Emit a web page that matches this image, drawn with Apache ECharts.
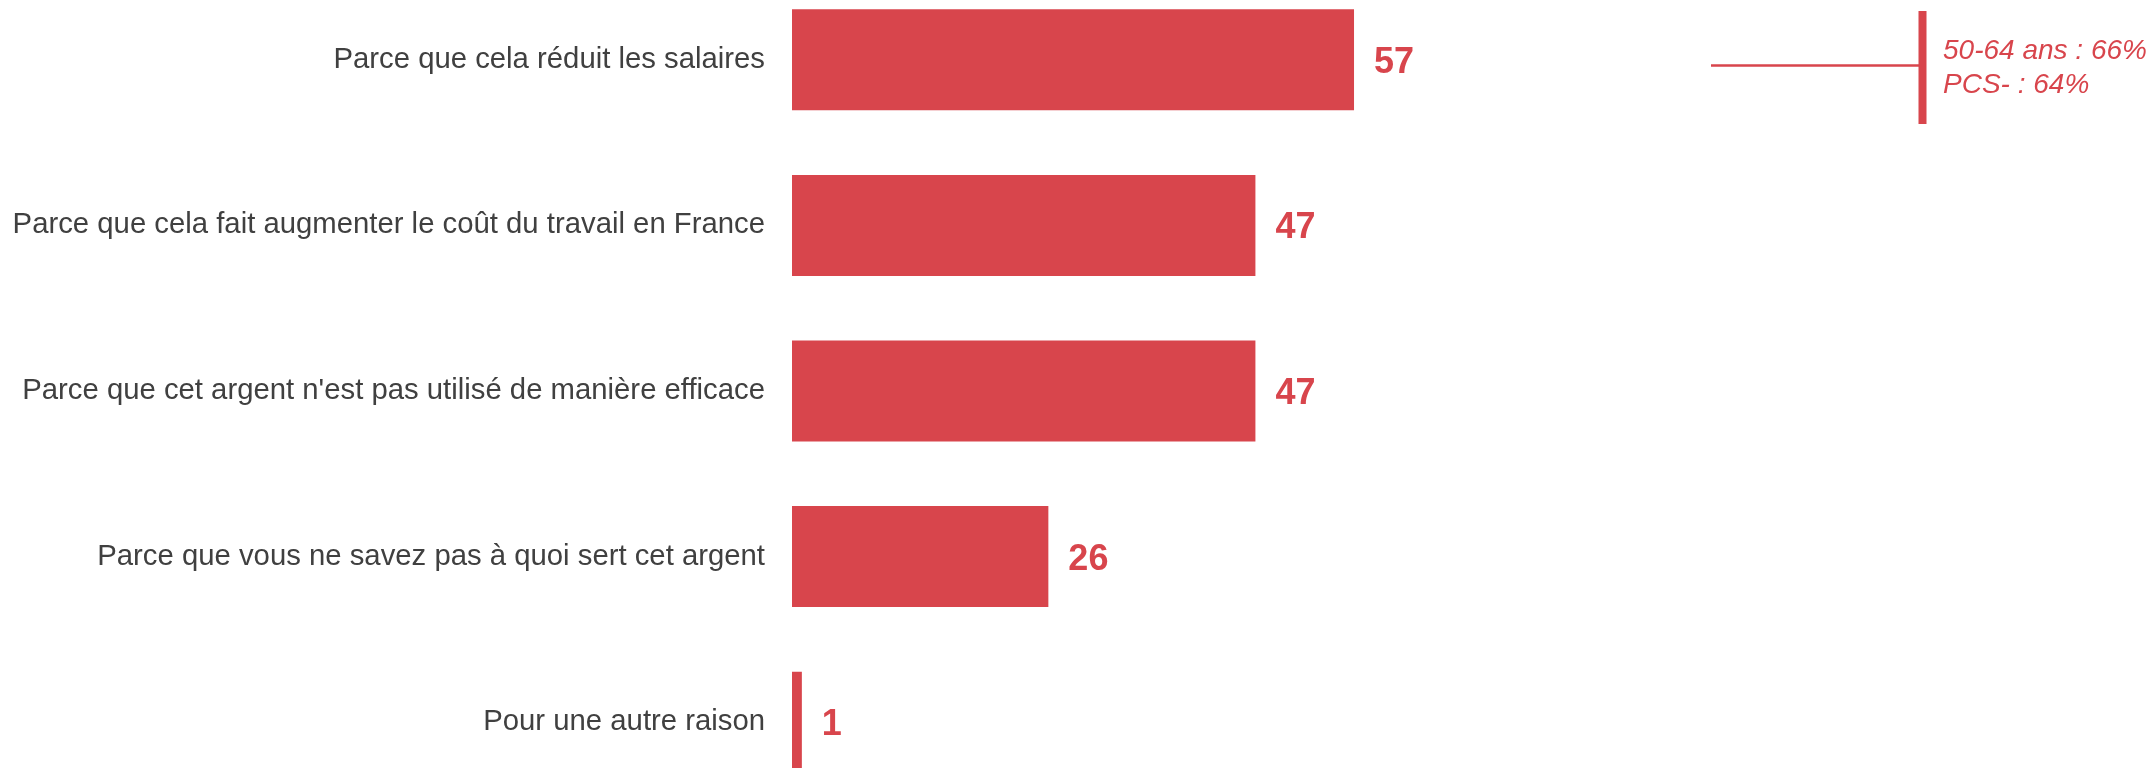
<!DOCTYPE html>
<html>
<head>
<meta charset="utf-8">
<script src="https://cdn.jsdelivr.net/npm/echarts@6/dist/echarts.min.js"></script>
<style>
  html, body { margin: 0; padding: 0; background: #ffffff; }
  #chart { width: 2151px; height: 768px; }
</style>
</head>
<body>
<div id="chart"></div>
<script>
var categories = [
  'Parce que cela réduit les salaires',
  'Parce que cela fait augmenter le coût du travail en France',
  "Parce que cet argent n'est pas utilisé de manière efficace",
  'Parce que vous ne savez pas à quoi sert cet argent',
  'Pour une autre raison'
];
var values = [57, 47, 47, 26, 1];
var annotationText = ['50-64 ans : 66%', 'PCS- : 64%'];

var RED = '#d8454c';
var chart = echarts.init(document.getElementById('chart'), null, { renderer: 'canvas' });

chart.setOption({
  animation: false,
  backgroundColor: '#ffffff',
  grid: { left: 792, top: -23, width: 986, height: 828, containLabel: false, outerBoundsMode: 'none' },
  xAxis: {
    type: 'value', min: 0, max: 100, show: false
  },
  yAxis: {
    type: 'category',
    data: categories,
    inverse: true,
    axisLine: { show: false },
    axisTick: { show: false },
    splitLine: { show: false },
    axisLabel: {
      margin: 27,
      color: '#404040',
      fontFamily: 'Liberation Sans, Arial, sans-serif',
      fontSize: 29.3,
      padding: [7, 0, 0, 0]
    }
  },
  series: [{
    type: 'bar',
    data: values,
    barWidth: 101,
    itemStyle: { color: RED },
    label: {
      show: true,
      position: 'right',
      distance: 20,
      offset: [0, 3],
      color: RED,
      fontFamily: 'Liberation Sans, Arial, sans-serif',
      fontWeight: 'bold',
      fontSize: 36
    }
  }],
  graphic: [
    { type: 'line', shape: { x1: 1711, y1: 65.5, x2: 1920, y2: 65.5 }, style: { stroke: RED, lineWidth: 2.5 } },
    { type: 'rect', shape: { x: 1918.5, y: 11, width: 8, height: 113 }, style: { fill: RED } },
    {
      type: 'text', left: 1943, top: 34,
      style: {
        text: annotationText.join('\n'),
        fill: RED,
        font: 'italic 28px "Liberation Sans", Arial, sans-serif',
        lineHeight: 34
      }
    }
  ]
});
</script>
</body>
</html>
